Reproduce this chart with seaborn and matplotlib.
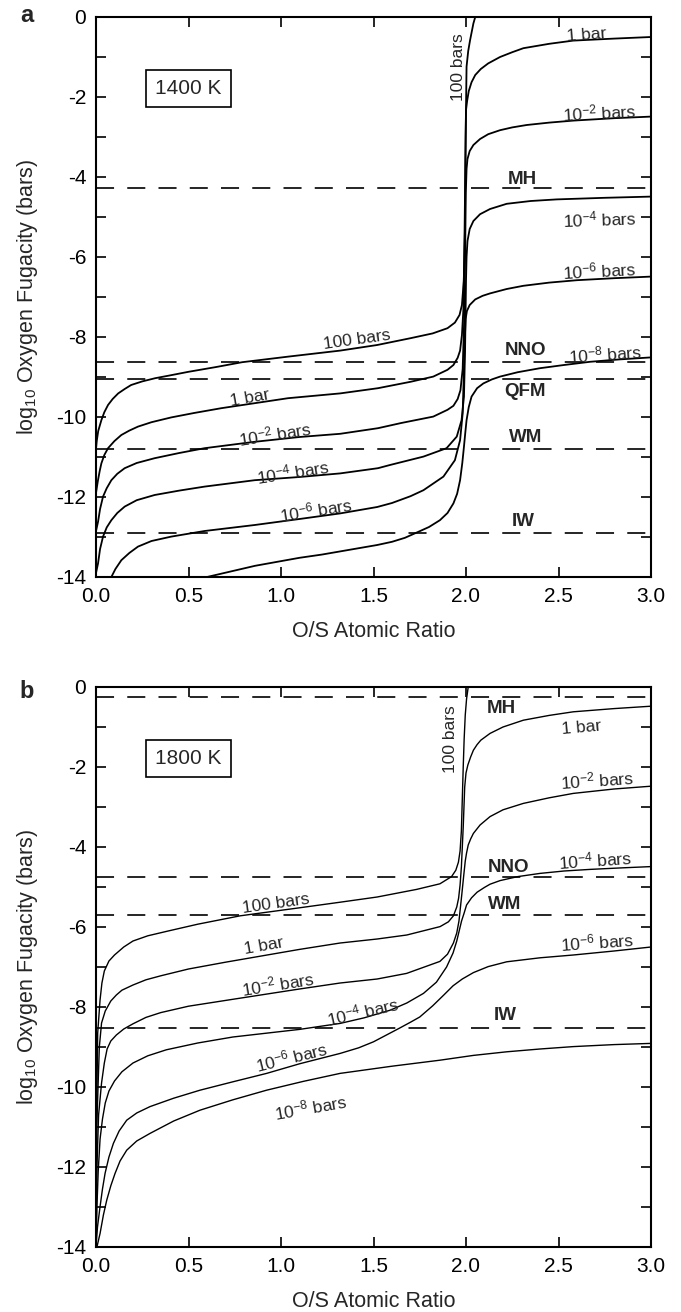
import matplotlib
matplotlib.use('Agg')
import matplotlib.pyplot as plt
import pandas as pd
import seaborn as sns

# ---- values ----
pressures = ['100 bars', '1 bar', '1e-2', '1e-4', '1e-6', '1e-8']

# panel a, 1400 K
a_100_x = [0.0, 0.004, 0.012, 0.029, 0.045, 0.065, 0.09, 0.12, 0.155, 0.19, 0.25, 0.32, 0.4, 0.5, 0.65, 0.79,
           1.04, 1.32, 1.52, 1.7, 1.82, 1.9, 1.94, 1.965, 1.978, 1.988, 1.994, 1.998, 2.003, 2.012, 2.022, 2.04, 2.05]
a_100_y = [-10.8, -10.6, -10.35, -10.08, -9.88, -9.7, -9.55, -9.41, -9.3, -9.2, -9.11, -9.03, -8.96, -8.87, -8.75, -8.63,
           -8.49, -8.34, -8.2, -8.03, -7.91, -7.78, -7.64, -7.45, -7.2, -6.6, -5.4, -3.0, -1.24, -0.85, -0.58, -0.16, 0.0]
a_1_x = [0.0, 0.01, 0.02, 0.029, 0.045, 0.065, 0.1, 0.137, 0.18, 0.227, 0.3, 0.407, 0.53, 0.677, 1.038, 1.32,
         1.524, 1.7, 1.823, 1.9, 1.932, 1.955, 1.968, 1.978, 1.986, 1.992, 1.997, 2.0, 2.006, 2.015, 2.03, 2.05,
         2.08, 2.12, 2.184, 2.25, 2.31, 2.45, 2.58, 2.8, 3.0]
a_1_y = [-11.9, -11.6, -11.35, -11.16, -10.95, -10.78, -10.6, -10.45, -10.34, -10.24, -10.13, -10.01, -9.9, -9.78, -9.53, -9.41,
         -9.28, -9.12, -8.99, -8.82, -8.7, -8.52, -8.34, -7.95, -7.3, -5.5, -3.5, -2.33, -2.1, -1.85, -1.63, -1.45,
         -1.3, -1.16, -1.0, -0.88, -0.78, -0.67, -0.59, -0.54, -0.5]
a_2_x = [0.0, 0.011, 0.022, 0.038, 0.058, 0.083, 0.115, 0.155, 0.22, 0.317, 0.45, 0.587, 0.858, 1.1, 1.32, 1.524,
         1.65, 1.823, 1.9, 1.932, 1.955, 1.97, 1.982, 1.99, 1.995, 1.999, 2.003, 2.008, 2.02, 2.04, 2.076, 2.12,
         2.184, 2.25, 2.328, 2.45, 2.58, 2.8, 3.0]
a_2_y = [-12.85, -12.62, -12.3, -11.99, -11.78, -11.58, -11.42, -11.28, -11.15, -11.03, -10.9, -10.78, -10.62, -10.5, -10.42, -10.28,
         -10.15, -9.99, -9.82, -9.72, -9.55, -9.33, -8.8, -7.6, -6.0, -4.4, -3.8, -3.55, -3.35, -3.2, -3.05, -2.93,
         -2.83, -2.76, -2.7, -2.64, -2.59, -2.53, -2.49]
a_4_x = [0.0, 0.011, 0.022, 0.038, 0.058, 0.083, 0.115, 0.155, 0.22, 0.317, 0.45, 0.587, 0.858, 1.1, 1.32, 1.524,
         1.589, 1.77, 1.895, 1.95, 1.976, 1.989, 1.995, 2.0, 2.003, 2.008, 2.02, 2.04, 2.076, 2.13, 2.22, 2.35,
         2.49, 2.75, 3.0]
a_4_y = [-13.9, -13.66, -13.3, -12.99, -12.76, -12.58, -12.4, -12.24, -12.08, -11.95, -11.84, -11.74, -11.58, -11.5, -11.41, -11.28,
         -11.2, -10.99, -10.78, -10.49, -10.08, -9.49, -8.3, -6.6, -6.0, -5.6, -5.3, -5.1, -4.93, -4.8, -4.67, -4.6,
         -4.56, -4.52, -4.49]
a_6_x = [0.083, 0.105, 0.137, 0.18, 0.227, 0.3, 0.407, 0.587, 0.858, 1.1, 1.32, 1.52, 1.6, 1.7, 1.77, 1.878,
         1.94, 1.968, 1.982, 1.989, 1.994, 1.998, 2.005, 2.02, 2.05, 2.09, 2.13, 2.22, 2.31, 2.45, 2.6, 2.8, 3.0]
a_6_y = [-14.0, -13.8, -13.58, -13.4, -13.24, -13.1, -12.99, -12.85, -12.7, -12.55, -12.41, -12.25, -12.15, -11.98, -11.83, -11.49,
         -11.08, -10.58, -9.91, -8.8, -8.0, -7.55, -7.35, -7.2, -7.06, -6.97, -6.91, -6.8, -6.72, -6.64, -6.58, -6.53, -6.49]
a_8_x = [0.6, 0.86, 1.1, 1.22, 1.32, 1.52, 1.6, 1.67, 1.733, 1.8, 1.859, 1.9, 1.932, 1.952, 1.968, 1.98,
         1.989, 1.996, 2.003, 2.015, 2.03, 2.06, 2.094, 2.14, 2.184, 2.28, 2.4, 2.53, 2.67, 2.83, 3.0]
a_8_y = [-14.0, -13.72, -13.52, -13.44, -13.36, -13.2, -13.12, -13.02, -12.89, -12.75, -12.58, -12.4, -12.16, -11.92, -11.58, -11.15,
         -10.74, -10.4, -10.08, -9.75, -9.49, -9.28, -9.16, -9.06, -8.99, -8.88, -8.78, -8.7, -8.62, -8.56, -8.51]

# panel b, 1800 K
b_100_x = [0.0, 0.003, 0.009, 0.022, 0.032, 0.045, 0.07, 0.1, 0.15, 0.2, 0.28, 0.39, 0.55, 0.78, 1.1, 1.32,
           1.52, 1.733, 1.859, 1.922, 1.945, 1.959, 1.968, 1.975, 1.98, 1.985, 1.99, 1.996, 2.003, 2.012]
b_100_y = [-14.0, -11.0, -8.66, -7.82, -7.4, -7.1, -6.85, -6.7, -6.5, -6.35, -6.22, -6.1, -5.93, -5.72, -5.52, -5.38,
           -5.25, -5.06, -4.92, -4.74, -4.58, -4.38, -4.1, -3.6, -2.8, -2.0, -1.3, -0.7, -0.3, 0.0]
b_1_x = [0.0, 0.004, 0.018, 0.03, 0.05, 0.08, 0.11, 0.14, 0.2, 0.27, 0.35, 0.5, 0.7, 1.1, 1.32, 1.52,
         1.68, 1.86, 1.905, 1.932, 1.95, 1.96, 1.968, 1.975, 1.985, 1.993, 2.0, 2.01, 2.025, 2.04, 2.06, 2.08,
         2.13, 2.2, 2.31, 2.45, 2.58, 2.8, 3.0]
b_1_y = [-14.0, -11.0, -9.0, -8.4, -8.1, -7.85, -7.7, -7.58, -7.45, -7.32, -7.22, -7.05, -6.88, -6.56, -6.4, -6.3,
         -6.2, -5.99, -5.87, -5.72, -5.5, -5.28, -4.95, -4.5, -3.5, -2.5, -2.15, -1.95, -1.75, -1.58, -1.44, -1.33,
         -1.16, -1.0, -0.83, -0.71, -0.62, -0.54, -0.48]
b_2_x = [0.0, 0.005, 0.014, 0.03, 0.045, 0.06, 0.08, 0.11, 0.15, 0.2, 0.27, 0.35, 0.5, 0.75, 1.1, 1.32,
         1.52, 1.679, 1.859, 1.9, 1.932, 1.95, 1.962, 1.977, 1.988, 1.996, 2.003, 2.012, 2.025, 2.04, 2.076, 2.13,
         2.2, 2.31, 2.45, 2.58, 2.8, 3.0]
b_2_y = [-14.0, -12.0, -10.7, -9.9, -9.4, -9.05, -8.85, -8.7, -8.55, -8.42, -8.26, -8.14, -7.98, -7.8, -7.55, -7.4,
         -7.3, -7.16, -6.86, -6.68, -6.4, -6.15, -5.85, -5.2, -4.7, -4.35, -4.15, -3.95, -3.8, -3.66, -3.45, -3.24,
         -3.07, -2.91, -2.77, -2.66, -2.55, -2.48]
b_4_x = [0.0, 0.005, 0.012, 0.022, 0.035, 0.05, 0.07, 0.1, 0.14, 0.2, 0.28, 0.38, 0.55, 0.74, 1.1, 1.32,
         1.45, 1.59, 1.68, 1.77, 1.84, 1.895, 1.93, 1.95, 1.976, 1.99, 2.003, 2.03, 2.06, 2.1, 2.13, 2.184,
         2.28, 2.4, 2.53, 2.67, 2.85, 3.0]
b_4_y = [-14.0, -13.0, -12.1, -11.3, -10.8, -10.4, -10.1, -9.85, -9.62, -9.4, -9.22, -9.07, -8.9, -8.75, -8.56, -8.41,
         -8.27, -8.08, -7.9, -7.66, -7.38, -7.0, -6.65, -6.35, -5.85, -5.65, -5.45, -5.27, -5.13, -5.01, -4.93, -4.84,
         -4.74, -4.66, -4.6, -4.56, -4.52, -4.49]
b_6_x = [0.0, 0.008, 0.022, 0.035, 0.049, 0.07, 0.094, 0.125, 0.166, 0.22, 0.292, 0.42, 0.562, 0.74, 0.922, 1.1,
         1.32, 1.42, 1.5, 1.57, 1.64, 1.7, 1.75, 1.82, 1.88, 1.93, 1.98, 2.04, 2.12, 2.22, 2.4, 2.58, 2.8, 3.0]
b_6_y = [-14.0, -13.5, -12.99, -12.55, -12.16, -11.75, -11.41, -11.1, -10.83, -10.65, -10.49, -10.28, -10.08, -9.87, -9.66, -9.42,
         -9.16, -9.02, -8.87, -8.7, -8.53, -8.38, -8.25, -7.97, -7.7, -7.47, -7.3, -7.14, -6.99, -6.87, -6.77, -6.7, -6.6, -6.5]
b_8_x = [0.005, 0.022, 0.04, 0.058, 0.08, 0.103, 0.13, 0.166, 0.22, 0.292, 0.42, 0.562, 0.74, 0.922, 1.12, 1.319,
         1.6, 1.859, 2.04, 2.22, 2.4, 2.58, 2.8, 3.0]
b_8_y = [-14.0, -13.66, -13.2, -12.83, -12.47, -12.16, -11.85, -11.58, -11.35, -11.16, -10.85, -10.58, -10.32, -10.08, -9.86, -9.66,
         -9.48, -9.33, -9.21, -9.12, -9.05, -8.99, -8.94, -8.91]

# oxygen buffers (log10 fO2)
a_buffers = ['MH', 'NNO', 'QFM', 'WM', 'IW']
a_buffer_vals = [-4.27, -8.62, -9.05, -10.81, -12.89]
b_buffers = ['MH', 'NNO', 'WM', 'IW']
b_buffer_vals = [-0.24, -4.76, -5.7, -8.52]

xticks = [0.0, 0.5, 1.0, 1.5, 2.0, 2.5, 3.0]
yticks = list(range(-14, 1))

# curve labels: text, x, y, rotation
a_curve_labels = [
    ('100 bars', 1.957, -1.25, 90),
    ('1 bar', 2.65, -0.45, 4),
    ('10$^{-2}$ bars', 2.72, -2.38, 3),
    ('10$^{-4}$ bars', 2.72, -5.05, 2),
    ('10$^{-6}$ bars', 2.72, -6.33, 3),
    ('10$^{-8}$ bars', 2.75, -8.41, 4),
    ('100 bars', 1.41, -8.08, 8),
    ('1 bar', 0.83, -9.53, 10),
    ('10$^{-2}$ bars', 0.966, -10.43, 9),
    ('10$^{-4}$ bars', 1.065, -11.37, 9),
    ('10$^{-6}$ bars', 1.19, -12.33, 9),
]
a_buffer_labels = [('MH', 2.306, -4.05), ('NNO', 2.324, -8.33), ('QFM', 2.32, -9.37),
                   ('WM', 2.32, -10.5), ('IW', 2.31, -12.62)]
b_curve_labels = [
    ('100 bars', 1.917, -1.3, 90),
    ('1 bar', 2.625, -1.01, 5),
    ('10$^{-2}$ bars', 2.71, -2.31, 4),
    ('10$^{-4}$ bars', 2.7, -4.33, 4),
    ('10$^{-6}$ bars', 2.71, -6.37, 4),
    ('100 bars', 0.97, -5.41, 8),
    ('1 bar', 0.905, -6.47, 10),
    ('10$^{-2}$ bars', 0.986, -7.41, 9),
    ('10$^{-4}$ bars', 1.44, -8.1, 13),
    ('10$^{-6}$ bars', 1.058, -9.24, 14),
    ('10$^{-8}$ bars', 1.16, -10.5, 10),
]
b_buffer_labels = [('MH', 2.19, -0.53), ('NNO', 2.23, -4.51), ('WM', 2.21, -5.43), ('IW', 2.21, -8.22)]


def curves_frame(curves):
    parts = [pd.DataFrame({'x': xs, 'y': ys, 'curve': name}) for name, xs, ys in curves]
    return pd.concat(parts, ignore_index=True)


df_a = curves_frame(zip(pressures, [a_100_x, a_1_x, a_2_x, a_4_x, a_6_x, a_8_x],
                        [a_100_y, a_1_y, a_2_y, a_4_y, a_6_y, a_8_y]))
df_b = curves_frame(zip(pressures, [b_100_x, b_1_x, b_2_x, b_4_x, b_6_x, b_8_x],
                        [b_100_y, b_1_y, b_2_y, b_4_y, b_6_y, b_8_y]))

sns.set_theme(style='ticks')
plt.rcParams['font.family'] = ['Liberation Sans', 'DejaVu Sans']
plt.rcParams['mathtext.fontset'] = 'custom'
plt.rcParams['mathtext.rm'] = 'Liberation Sans'
plt.rcParams['mathtext.it'] = 'Liberation Sans:italic'
plt.rcParams['mathtext.bf'] = 'Liberation Sans:bold'
plt.rcParams['axes.unicode_minus'] = False
plt.rcParams['lines.scale_dashes'] = False

fig = plt.figure(figsize=(6.81, 13.12), dpi=100)
W, H = 681, 1312
ax_a = fig.add_axes([96 / W, 1 - 577 / H, 555 / W, 560 / H])
ax_b = fig.add_axes([96 / W, 1 - 1247 / H, 555 / W, 560 / H])

panels = [
    (ax_a, df_a, a_buffer_vals, a_curve_labels, a_buffer_labels, '1400 K', 1.3),
    (ax_b, df_b, b_buffer_vals, b_curve_labels, b_buffer_labels, '1800 K', 1.0),
]

for ax, df, bvals, clabels, blabels, temp, lw in panels:
    sns.lineplot(data=df, x='x', y='y', units='curve', estimator=None, sort=False,
                 color='black', lw=lw, ax=ax)
    for v in bvals:
        ax.axhline(v, color='black', lw=1.2, dashes=(13, 9.5))

    for txt, x, y, rot in clabels:
        ax.text(x, y, txt, fontsize=12.5, rotation=rot, rotation_mode='anchor',
                ha='center', va='center')
    for txt, x, y in blabels:
        ax.text(x, y, txt, fontsize=13.5, fontweight='bold', ha='center', va='center')

    ax.text(0.5, -1.79, temp, fontsize=15, ha='center', va='center',
            bbox=dict(boxstyle='square,pad=0.45', fc='white', ec='black', lw=1.2))

    ax.set_xlim(0, 3)
    ax.set_ylim(-14, 0)
    ax.set_xticks(xticks)
    ax.set_xticklabels([f'{v:.1f}' for v in xticks])
    ax.set_yticks(yticks)
    ax.set_yticklabels([str(v) if v % 2 == 0 else '' for v in yticks])
    ax.tick_params(direction='in', length=7, width=1.2, top=True, right=True,
                   labelsize=15, pad=7, colors='black')
    for s in ax.spines.values():
        s.set_linewidth(1.5)
        s.set_color('black')

    ax.set_xlabel('O/S Atomic Ratio', fontsize=15.5)
    ax.set_ylabel('log$_{10}$ Oxygen Fugacity (bars)', fontsize=15.5)
    ax.xaxis.set_label_coords(0.5, -0.098)
    ax.xaxis.label.set_va('center')
    ax.yaxis.set_label_coords(-0.124, 0.5)
    ax.yaxis.label.set_va('center')

fig.text(27 / W, 1 - 16 / H, 'a', fontsize=17, fontweight='bold', ha='center', va='center')
fig.text(27 / W, 1 - 691 / H, 'b', fontsize=17, fontweight='bold', ha='center', va='center')

fig.savefig('out.png', dpi=100, facecolor='white')
